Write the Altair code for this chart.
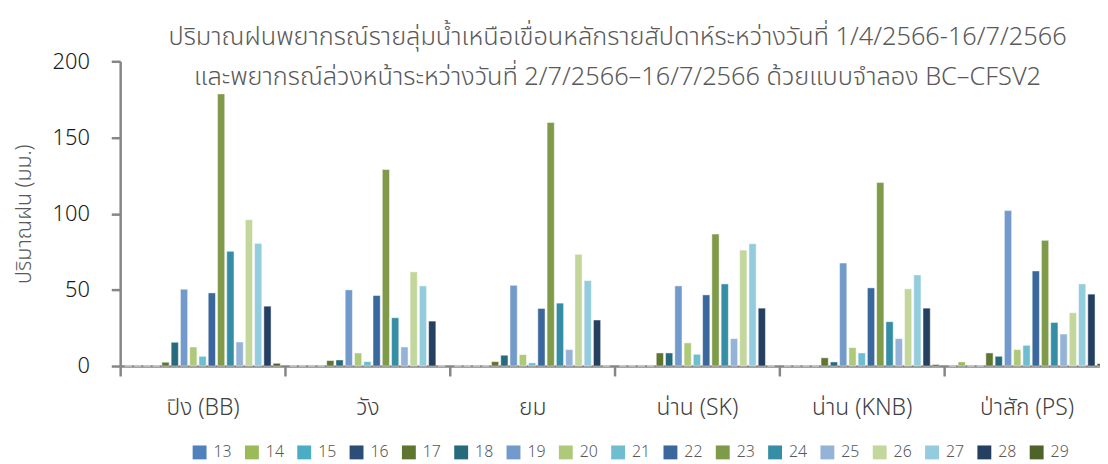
import altair as alt
import pandas as pd

basins = ["ปิง (BB)", "วัง", "ยม", "น่าน (SK)", "น่าน (KNB)", "ป่าสัก (PS)"]
days = [str(d) for d in range(13, 30)]

# values per day (series), one entry per basin
s13 = [0, 0, 0, 0, 0, 0]
s14 = [0, 0, 0, 0, 0, 2.7]
s15 = [0, 0, 0, 0, 0, 0]
s16 = [0, 0, 0, 0, 0, 0]
s17 = [2.5, 3.6, 2.9, 8.6, 5.4, 8.6]
s18 = [15.6, 4.0, 7.1, 8.6, 2.7, 6.4]
s19 = [50.4, 50.0, 53.0, 52.6, 67.6, 102.0]
s20 = [12.5, 8.6, 7.5, 15.2, 12.1, 10.8]
s21 = [6.4, 2.9, 2.1, 7.7, 8.6, 13.6]
s22 = [48.0, 46.3, 37.8, 46.7, 51.3, 62.4]
s23 = [178.6, 129.0, 159.8, 86.6, 120.4, 82.5]
s24 = [75.3, 31.7, 41.3, 53.9, 29.1, 28.6]
s25 = [15.8, 12.5, 10.8, 18.0, 18.0, 21.0]
s26 = [96.0, 61.8, 73.3, 76.1, 50.7, 35.0]
s27 = [80.5, 52.6, 56.1, 80.3, 59.8, 53.9]
s28 = [39.3, 29.5, 30.2, 38.0, 38.0, 47.2]
s29 = [1.8, 0, 0, 0, 1.0, 1.6]

series = [s13, s14, s15, s16, s17, s18, s19, s20, s21, s22, s23, s24, s25, s26, s27, s28, s29]
colors = ["#4F81BD", "#9BBB59", "#4BACC6", "#2C4D75", "#5F7530", "#276A7C",
          "#729ACA", "#AFC97A", "#6FBDD1", "#3A679C", "#7F9A48", "#358EA6",
          "#95B3D7", "#C3D69B", "#93CDDD", "#253F60", "#4F6228"]

rows = []
for d, vals in zip(days, series):
    for b, v in zip(basins, vals):
        rows.append({"basin": b, "day": d, "rain": v})
df = pd.DataFrame(rows)

FONT = "Noto Sans Thai, Noto Sans"
title_lines = [
    "ปริมาณฝนพยากรณ์รายลุ่มน้ำเหนือเขื่อนหลักรายสัปดาห์ระหว่างวันที่ 1/4/2566-16/7/2566",
    "และพยากรณ์ล่วงหน้าระหว่างวันที่ 2/7/2566–16/7/2566 ด้วยแบบจำลอง BC–CFSV2",
]

chart = alt.Chart(df).mark_bar(stroke="white", strokeWidth=0.8, strokeOpacity=0.6).encode(
    x=alt.X("basin:N", sort=basins, title=None,
            scale=alt.Scale(range=[0, 996], paddingInner=0, paddingOuter=0),
            axis=alt.Axis(labelAngle=0, labelFontSize=23, labelColor="#404040",
                          labelFont=FONT, labelFontWeight=300, labelPadding=21,
                          tickBand="extent",
                          tickSize=10, tickWidth=2.5, tickColor="#868686",
                          domainColor="#868686", domainWidth=2.5)),
    xOffset=alt.XOffset("day:N", sort=days,
                        scale=alt.Scale(paddingInner=0.22, paddingOuter=0.5)),
    y=alt.Y("rain:Q", title="ปริมาณฝน (มม.)",
            scale=alt.Scale(domain=[0, 200], nice=False),
            axis=alt.Axis(values=[0, 50, 100, 150, 200], grid=False,
                          labelFontSize=22, labelColor="#1a1a1a", labelFont=FONT,
                          labelFontWeight=300,
                          labelPadding=22, tickSize=9, tickWidth=2.5,
                          tickColor="#868686", domainColor="#868686", domainWidth=2.5,
                          titleFontSize=21.5, titleFont=FONT, titleColor="#595959",
                          titleFontWeight=300, titlePadding=17)),
    color=alt.Color("day:N", sort=days,
                    scale=alt.Scale(domain=days, range=colors),
                    legend=alt.Legend(title=None, orient="none", direction="horizontal",
                                      columns=17, legendX=72, legendY=386,
                                      symbolType="square", symbolSize=196,
                                      symbolStrokeWidth=0, labelFontSize=16,
                                      labelColor="#595959", labelFont=FONT,
                                      labelFontWeight=300,
                                      labelOffset=6, columnPadding=11.7)),
).properties(
    width=978,
    height=307,
    autosize=alt.AutoSizeParams(type="none"),
    padding={"left": 113, "top": 52, "right": 9, "bottom": 97},
    title=alt.TitleParams(text=title_lines, fontSize=25.5, font=FONT, color="#595959",
                          fontWeight=300, lineHeight=40, offset=-40, dx=12,
                          anchor="middle"),
).configure_view(stroke=None)

chart.save("out.html", embed_options={"renderer": "svg", "actions": False})
